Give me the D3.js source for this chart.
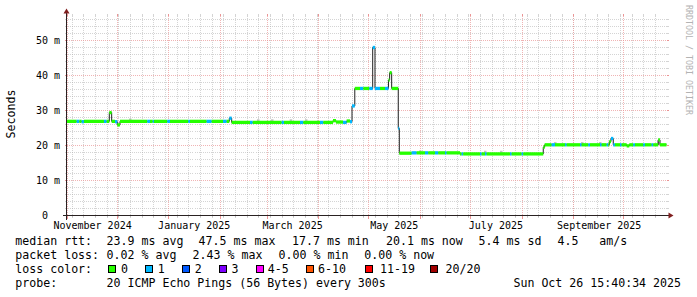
<!DOCTYPE html>
<html><head><meta charset="utf-8">
<script src="https://cdn.jsdelivr.net/npm/d3@7"></script>
<style>
body{margin:0;background:#fff}
svg{display:block}
text{font-family:"DejaVu Sans Mono",monospace;fill:#000}
</style></head><body>
<svg id="c" width="697" height="297"></svg>
<script>
// ---------------- data ----------------
const endTime = "2025-10-26T15:40:34";
const spanDays = 360;
// median runs: start time, median (ms), loss class index
const runStart = [
"2024-10-31T15","2024-11-06T18","2024-11-08T08","2024-11-09T18","2024-11-11T03","2024-11-23T03","2024-11-24T18","2024-11-26T08",
"2024-11-27T18","2024-11-29T18","2024-12-01T03","2024-12-02T18","2024-12-19T03","2024-12-20T18","2024-12-22T09","2024-12-23T03",
"2024-12-31T03","2025-01-01T18","2025-01-12T17","2025-01-13T18","2025-01-23T18","2025-01-26T18","2025-02-02T13","2025-02-04T18",
"2025-02-06T08","2025-02-07T18","2025-02-18T18","2025-02-20T09","2025-03-09T18","2025-03-11T03","2025-03-20T18","2025-03-22T17",
"2025-04-01T18","2025-04-03T17","2025-04-09T13","2025-04-11T08","2025-04-15T13","2025-04-17T18","2025-04-19T18","2025-04-20T23",
"2025-04-22T15","2025-04-25T18","2025-04-27T18","2025-05-01T08","2025-05-03T09","2025-05-04T18","2025-05-07T18","2025-05-10T18",
"2025-05-12T20","2025-05-13T13","2025-05-14T18","2025-05-18T17","2025-05-19T08","2025-05-26T18","2025-05-29T18","2025-06-03T18",
"2025-06-05T17","2025-06-09T18","2025-06-11T17","2025-06-15T18","2025-06-16T18","2025-06-24T18","2025-06-25T18","2025-06-26T17",
"2025-07-06T18","2025-07-07T18","2025-07-09T18","2025-07-10T18","2025-07-24T18","2025-07-25T18","2025-07-31T18","2025-08-01T17",
"2025-08-13T17","2025-08-14T13","2025-08-18T18","2025-08-20T18","2025-08-26T18","2025-08-27T18","2025-09-04T18","2025-09-05T18",
"2025-09-09T17","2025-09-10T18","2025-09-16T18","2025-09-17T18","2025-09-20T18","2025-09-21T17","2025-09-22T08","2025-09-23T08",
"2025-09-24T17","2025-09-25T18","2025-09-28T18","2025-09-29T18","2025-10-02T18","2025-10-04T08","2025-10-06T17","2025-10-07T18",
"2025-10-12T17","2025-10-13T18","2025-10-17T18","2025-10-18T17","2025-10-21T17","2025-10-22T18"];
const runMedian = [
26.9,26.9,26.9,26.8,26.9,26.9,26.9,29.4,
26.9,26.8,25.9,26.9,26.9,26.9,26.9,26.9,
26.9,26.9,26.9,26.9,26.9,26.9,26.9,26.9,
27.8,26.6,26.6,26.6,26.6,26.6,26.6,26.6,
26.6,26.6,27.1,26.7,26.6,27.0,26.8,31.3,
36.3,36.3,36.3,36.3,48.0,36.3,36.3,36.3,
38.7,40.8,36.3,24.9,17.8,17.9,17.9,17.9,
17.9,17.9,17.9,17.9,17.9,17.6,17.6,17.6,
17.6,17.6,17.6,17.6,17.6,17.6,17.6,17.6,
19.5,20.2,20.2,20.2,20.2,20.2,20.2,20.2,
20.2,20.2,20.2,20.2,20.2,20.2,21.1,22.0,
20.2,20.2,20.2,20.2,19.9,20.2,20.2,20.2,
20.2,20.2,20.2,20.2,21.6,20.2];
const runLoss = [
0,1,0,1,0,1,0,0,
0,1,0,0,1,0,1,0,
1,0,1,0,1,0,1,0,
1,0,1,0,1,0,1,0,
1,0,0,0,1,0,1,1,
0,1,0,1,1,1,0,1,
0,0,0,1,0,1,0,1,
0,1,0,1,0,0,1,0,
1,0,1,0,1,0,1,0,
0,0,1,0,1,0,1,0,
1,0,1,0,1,0,0,1,
1,0,1,0,0,0,1,0,
1,0,1,0,0,0];
// visible smoke (ping spread above the median)
const smokeTime = ["2024-12-08T18","2025-02-23T13","2025-03-03T23","2025-03-15T04","2025-03-24T08","2025-05-31T18",
                   "2025-07-09T18","2025-07-19T08","2025-08-20T18","2025-09-05T23","2025-09-16T18","2025-10-21T13"];
const smokeHigh = [27.7,27.5,27.5,27.5,27.5,18.6,18.5,18.5,21.0,21.0,21.0,21.5];

const yTicks = [0,10,20,30,40,50];
const monthLabels = ["November 2024","January 2025","March 2025","May 2025","July 2025","September 2025"];
const monthLabelStart = ["2024-11-01","2025-01-01","2025-03-01","2025-05-01","2025-07-01","2025-09-01"];

const lossNames  = ["0","1","2","3","4-5","6-10","11-19","20/20"];
const lossColors = ["#26ff00","#00b8ff","#0059ff","#7e00ff","#ff00ff","#ff5500","#ff0000","#a10000"];

const rttStats  = ["23.9 ms avg","47.5 ms max","17.7 ms min","20.1 ms now","5.4 ms sd","4.5","am/s"];
const lossStats = ["0.02 % avg","2.43 % max","0.00 % min","0.00 % now"];
const probeText = "20 ICMP Echo Pings (56 Bytes) every 300s";
const stampText = "Sun Oct 26 15:40:34 2025";

// ---------------- chart ----------------
const parseH = d3.utcParse("%Y-%m-%dT%H");
const END = d3.utcParse("%Y-%m-%dT%H:%M:%S")(endTime);
const START = new Date(+END - spanDays*864e5);
const X0=66.5, X1=666.5, Y0=215.5, Y1=15.5;
const x = d3.scaleUtc().domain([START,END]).range([X0,X1]);
const y = d3.scaleLinear().domain([0,(Y0-Y1)/3.5]).range([Y0,Y1]);
const svg = d3.select("#c");
svg.append("rect").attr("width",697).attr("height",297).attr("fill","#fff");

const GRID="#ababab", MGRID="#eb9595";
const g = svg.append("g").attr("shape-rendering","crispEdges");
const snap = v => Math.round(v-0.5)+0.5;
const mo=0.5, Mo=0.7;

// minor horizontal
d3.range(2,57,2).filter(v=>v%10!==0).forEach(v=>{
  const yy=y(v);
  g.append("line").attr("x1",X0-1).attr("x2",X1+1).attr("y1",yy).attr("y2",yy)
    .attr("stroke",GRID).attr("stroke-dasharray","1,1").attr("opacity",mo);
  g.append("line").attr("x1",X0-2).attr("x2",X0).attr("y1",yy).attr("y2",yy).attr("stroke",GRID).attr("opacity",mo);
  g.append("line").attr("x1",X1).attr("x2",X1+2).attr("y1",yy).attr("y2",yy).attr("stroke",GRID).attr("opacity",mo);
});
// minor vertical (weeks)
d3.utcMonday.range(START,END).forEach(d=>{
  const xx=snap(x(d));
  g.append("line").attr("x1",xx).attr("x2",xx).attr("y1",Y0+1).attr("y2",Y1-1)
    .attr("stroke",GRID).attr("stroke-dasharray","1,1").attr("opacity",mo);
  g.append("line").attr("x1",xx).attr("x2",xx).attr("y1",Y0).attr("y2",Y0+2).attr("stroke",GRID).attr("opacity",mo);
  g.append("line").attr("x1",xx).attr("x2",xx).attr("y1",Y1-2).attr("y2",Y1).attr("stroke",GRID).attr("opacity",mo);
});
// major horizontal
yTicks.filter(v=>v>0).forEach(v=>{
  const yy=y(v);
  g.append("line").attr("x1",X0-2).attr("x2",X1+2).attr("y1",yy).attr("y2",yy)
    .attr("stroke",MGRID).attr("stroke-dasharray","1,1").attr("opacity",Mo);
  g.append("line").attr("x1",X0-2).attr("x2",X0).attr("y1",yy).attr("y2",yy).attr("stroke",MGRID);
  g.append("line").attr("x1",X1).attr("x2",X1+2).attr("y1",yy).attr("y2",yy).attr("stroke",MGRID);
});
// major vertical (months)
d3.utcMonth.range(START,END).forEach(d=>{
  const xx=snap(x(d));
  g.append("line").attr("x1",xx).attr("x2",xx).attr("y1",Y0+3).attr("y2",Y1-2)
    .attr("stroke",MGRID).attr("stroke-dasharray","1,1").attr("opacity",Mo);
  g.append("line").attr("x1",xx).attr("x2",xx).attr("y1",Y0).attr("y2",Y0+3).attr("stroke",MGRID);
  g.append("line").attr("x1",xx).attr("x2",xx).attr("y1",Y1-2).attr("y2",Y1).attr("stroke",MGRID);
});

// runs
const runs = runStart.map((s,i)=>({
  t0: i===0 ? START : parseH(s),
  t1: i<runStart.length-1 ? parseH(runStart[i+1]) : END,
  v: runMedian[i], loss: runLoss[i]}));

// smoke
svg.append("g").selectAll("rect").data(smokeTime).join("rect")
  .attr("x",d=>x(parseH(d))-1).attr("width",2.5)
  .attr("y",(d,i)=>y(smokeHigh[i]))
  .attr("height",(d,i)=>{
     const t=parseH(d); const r=runs.find(r=>t>=r.t0&&t<r.t1);
     return Math.max(1, y(r.v)-y(smokeHigh[i]));})
  .attr("fill","#c4c4c4");

// black median line
const pts=[];
runs.forEach(r=>{pts.push([r.t0,r.v]);pts.push([r.t1,r.v]);});
svg.append("path").attr("d",d3.line().x(d=>x(d[0])).y(d=>y(d[1]))(pts))
  .attr("fill","none").attr("stroke","#202020").attr("stroke-width",1);

// loss-colored median bands (horizontal pieces only)
svg.append("g").selectAll("line").data(runs).join("line")
  .attr("x1",r=>x(r.t0)).attr("x2",r=>x(r.t1))
  .attr("y1",r=>y(r.v)).attr("y2",r=>y(r.v))
  .attr("stroke",r=>lossColors[r.loss]).attr("stroke-width",3.3).attr("stroke-linecap","butt");

// axes
const AX="#2a2222", ARROW="#801f1f";
svg.append("line").attr("x1",X0-4).attr("x2",X1+4).attr("y1",Y0).attr("y2",Y0).attr("stroke",AX).attr("shape-rendering","crispEdges");
svg.append("line").attr("x1",X0).attr("x2",X0).attr("y1",Y0+4).attr("y2",Y1-4).attr("stroke",AX).attr("shape-rendering","crispEdges");
svg.append("path").attr("d",`M${X1+2},${Y0-3}L${X1+2},${Y0+3}L${X1+7},${Y0}Z`).attr("fill",ARROW);
svg.append("path").attr("d",`M${X0-3},${Y1-2}L${X0+3},${Y1-2}L${X0},${Y1-7}Z`).attr("fill",ARROW);

const yAxis = d3.axisLeft(y).tickValues(yTicks).tickSize(0).tickPadding(X0-60)
  .tickFormat(d=> d===0 ? "0\u00a0\u00a0" : d+"\u00a0m");
const ya = svg.append("g").attr("transform",`translate(${X0},0)`).call(yAxis);
ya.select(".domain").remove();
ya.selectAll("text").attr("font-size",10).attr("font-family","DejaVu Sans Mono").attr("fill","#000");

const labelPos = monthLabelStart.map(s=>d3.utcDay.offset(d3.utcParse("%Y-%m-%d")(s),15));
const xAxis = d3.axisBottom(x).tickValues(labelPos).tickSize(0).tickFormat((d,i)=>monthLabels[i]);
const xa = svg.append("g").attr("transform",`translate(0,${Y0})`).call(xAxis);
xa.select(".domain").remove();
xa.selectAll("text").attr("font-size",10).attr("font-family","DejaVu Sans Mono").attr("fill","#000")
  .attr("y",13).attr("dy",null);

// axis title
svg.append("text").attr("transform","translate(15,114) rotate(-90)").attr("text-anchor","middle")
  .attr("font-size",11.6).text("Seconds");
// watermark
svg.append("text").attr("transform","translate(686,5) rotate(90)").attr("font-size",8.3)
  .style("fill","#b3b3b3").text("RRDTOOL / TOBI OETIKER");

// legend
const LF=11.6;
const leg = svg.append("g").attr("font-size",LF).style("white-space","pre");
const line1X=[15.3,106.6,198.6,292,386,478.6,557.6,599.3];
["median rtt:",...rttStats].forEach((t,i)=>leg.append("text").attr("x",line1X[i]).attr("y",245).text(t));
const line2X=[15.3,106.6,192.6,278.6,364.3];
["packet loss:",...lossStats].forEach((t,i)=>leg.append("text").attr("x",line2X[i]).attr("y",259).text(t));
leg.append("text").attr("x",15.3).attr("y",273).text("loss color:");
const boxX=[108,145,182,219,256,306,365,430];
const txtX=[121,157.8,194.8,231.5,267.8,318,380,445.5];
lossNames.forEach((n,i)=>{
  leg.append("rect").attr("x",boxX[i]+0.5).attr("y",265.5).attr("width",7).attr("height",7)
    .attr("fill",lossColors[i]).attr("stroke","#000").attr("stroke-width",1);
  leg.append("text").attr("x",txtX[i]).attr("y",273).text(n);
});
leg.append("text").attr("x",15.3).attr("y",287).text("probe:");
leg.append("text").attr("x",106.6).attr("y",287).text(probeText);
leg.append("text").attr("x",681).attr("y",287).attr("text-anchor","end").text(stampText);
</script>
</body></html>
